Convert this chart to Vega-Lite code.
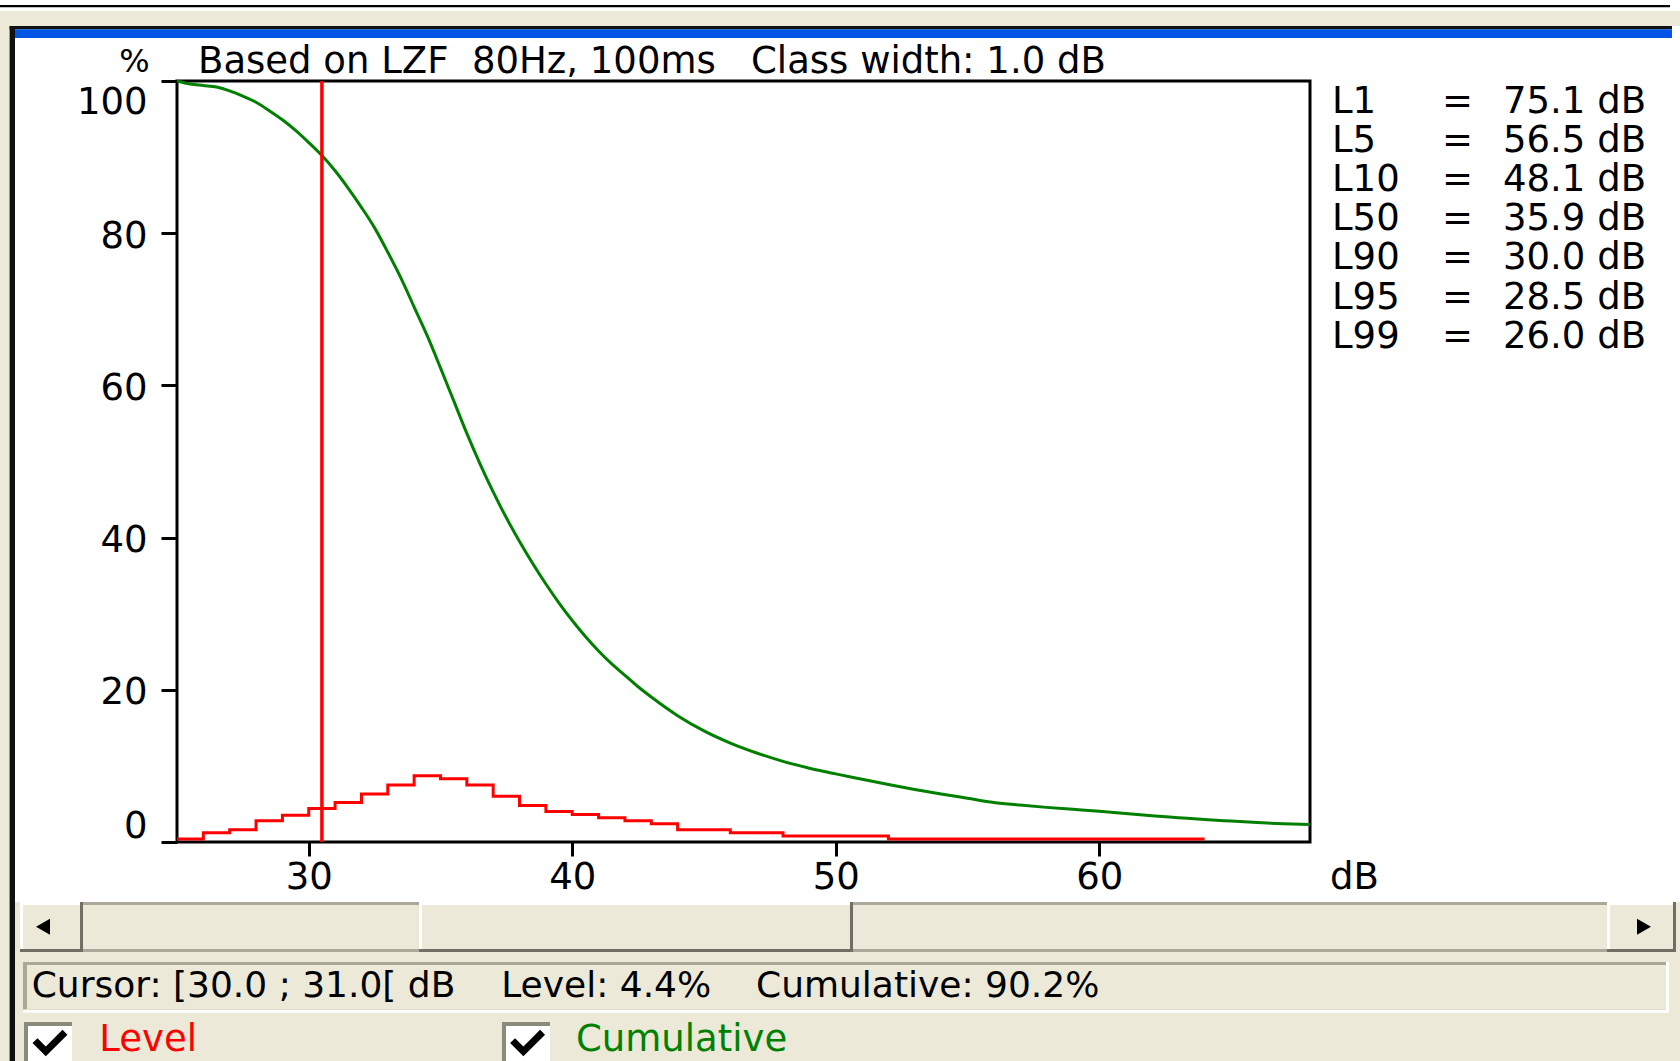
{
  "$schema": "https://vega.github.io/schema/vega-lite/v6.json",
  "width": 1133,
  "height": 761,
  "autosize": {"type": "none"},
  "padding": {"left": 177, "top": 81, "right": 370, "bottom": 219},
  "background": "#ffffff",
  "title": {
    "text": "Based on LZF\u00a0\u00a080Hz, 100ms\u00a0\u00a0\u00a0Class width: 1.0 dB",
    "anchor": "start",
    "frame": "group",
    "dx": 21,
    "offset": -105,
    "baseline": "alphabetic",
    "font": "DejaVu Sans",
    "fontSize": 37,
    "fontWeight": "normal",
    "color": "#000000",
    "zindex": 1
  },
  "config": {
    "view": {"stroke": null},
    "font": "DejaVu Sans",
    "axis": {
      "labelFont": "DejaVu Sans",
      "labelFontSize": 37,
      "labelColor": "#000000",
      "titleFont": "DejaVu Sans",
      "titleFontSize": 37,
      "titleFontWeight": "normal",
      "titleColor": "#000000",
      "tickColor": "#000000",
      "tickWidth": 3,
      "domain": false,
      "gridColor": "#a0a0a0",
      "gridWidth": 3,
      "gridOpacity": 1
    },
    "text": {"font": "DejaVu Sans", "fontSize": 37, "color": "#000000"}
  },
  "datasets": {
    "unit": [{}],
    "levels": [
      {"lo": 25, "hi": 26, "level": 0.4},
      {"lo": 26, "hi": 27, "level": 1.2},
      {"lo": 27, "hi": 28, "level": 1.6},
      {"lo": 28, "hi": 29, "level": 2.8},
      {"lo": 29, "hi": 30, "level": 3.5},
      {"lo": 30, "hi": 31, "level": 4.4},
      {"lo": 31, "hi": 32, "level": 5.2},
      {"lo": 32, "hi": 33, "level": 6.3},
      {"lo": 33, "hi": 34, "level": 7.5},
      {"lo": 34, "hi": 35, "level": 8.7},
      {"lo": 35, "hi": 36, "level": 8.3},
      {"lo": 36, "hi": 37, "level": 7.5},
      {"lo": 37, "hi": 38, "level": 6.0},
      {"lo": 38, "hi": 39, "level": 4.8},
      {"lo": 39, "hi": 40, "level": 4.0},
      {"lo": 40, "hi": 41, "level": 3.6},
      {"lo": 41, "hi": 42, "level": 3.2},
      {"lo": 42, "hi": 43, "level": 2.8},
      {"lo": 43, "hi": 44, "level": 2.4},
      {"lo": 44, "hi": 45, "level": 1.6},
      {"lo": 45, "hi": 46, "level": 1.6},
      {"lo": 46, "hi": 47, "level": 1.2},
      {"lo": 47, "hi": 48, "level": 1.2},
      {"lo": 48, "hi": 49, "level": 0.8},
      {"lo": 49, "hi": 50, "level": 0.8},
      {"lo": 50, "hi": 51, "level": 0.8},
      {"lo": 51, "hi": 52, "level": 0.8},
      {"lo": 52, "hi": 53, "level": 0.4},
      {"lo": 53, "hi": 54, "level": 0.4},
      {"lo": 54, "hi": 55, "level": 0.4},
      {"lo": 55, "hi": 56, "level": 0.4},
      {"lo": 56, "hi": 57, "level": 0.4},
      {"lo": 57, "hi": 58, "level": 0.4},
      {"lo": 58, "hi": 59, "level": 0.4},
      {"lo": 59, "hi": 60, "level": 0.4},
      {"lo": 60, "hi": 61, "level": 0.4},
      {"lo": 61, "hi": 62, "level": 0.4},
      {"lo": 62, "hi": 63, "level": 0.4},
      {"lo": 63, "hi": 64, "level": 0.4}
    ],
    "cumulative": [
      {"dB": 25, "pct": 100},
      {"dB": 25.5, "pct": 99.6},
      {"dB": 26, "pct": 99.4},
      {"dB": 26.5, "pct": 99.2},
      {"dB": 27, "pct": 98.7},
      {"dB": 27.5, "pct": 98.0},
      {"dB": 28, "pct": 97.2},
      {"dB": 28.5, "pct": 96.1},
      {"dB": 29, "pct": 94.9},
      {"dB": 29.5, "pct": 93.5},
      {"dB": 30, "pct": 91.9},
      {"dB": 30.5, "pct": 90.2},
      {"dB": 31, "pct": 88.2},
      {"dB": 31.5, "pct": 85.9},
      {"dB": 32, "pct": 83.4},
      {"dB": 32.5, "pct": 80.7},
      {"dB": 33, "pct": 77.5},
      {"dB": 33.5, "pct": 74.1},
      {"dB": 34, "pct": 70.3},
      {"dB": 34.5, "pct": 66.5},
      {"dB": 35, "pct": 62.3},
      {"dB": 35.5, "pct": 58.0},
      {"dB": 36, "pct": 53.7},
      {"dB": 36.5, "pct": 49.7},
      {"dB": 37, "pct": 46.0},
      {"dB": 37.5, "pct": 42.6},
      {"dB": 38, "pct": 39.5},
      {"dB": 38.5, "pct": 36.6},
      {"dB": 39, "pct": 33.9},
      {"dB": 39.5, "pct": 31.4},
      {"dB": 40, "pct": 29.1},
      {"dB": 40.5, "pct": 27.0},
      {"dB": 41, "pct": 25.1},
      {"dB": 41.5, "pct": 23.4},
      {"dB": 42, "pct": 21.9},
      {"dB": 42.5, "pct": 20.4},
      {"dB": 43, "pct": 19.05},
      {"dB": 44, "pct": 16.6},
      {"dB": 45, "pct": 14.6},
      {"dB": 46, "pct": 13.0},
      {"dB": 47, "pct": 11.7},
      {"dB": 48, "pct": 10.6},
      {"dB": 49, "pct": 9.7},
      {"dB": 50, "pct": 8.95},
      {"dB": 51, "pct": 8.25},
      {"dB": 52, "pct": 7.55},
      {"dB": 53, "pct": 6.9},
      {"dB": 54, "pct": 6.3},
      {"dB": 55, "pct": 5.75},
      {"dB": 56, "pct": 5.2},
      {"dB": 57, "pct": 4.85},
      {"dB": 58, "pct": 4.55},
      {"dB": 59, "pct": 4.3},
      {"dB": 60, "pct": 4.05},
      {"dB": 61, "pct": 3.75},
      {"dB": 62, "pct": 3.45},
      {"dB": 63, "pct": 3.2},
      {"dB": 64, "pct": 2.95},
      {"dB": 65, "pct": 2.75},
      {"dB": 66, "pct": 2.55},
      {"dB": 67, "pct": 2.4},
      {"dB": 68, "pct": 2.3}
    ],
    "percentiles": [
      {"stat": "L1", "db": 75.1},
      {"stat": "L5", "db": 56.5},
      {"stat": "L10", "db": 48.1},
      {"stat": "L50", "db": 35.9},
      {"stat": "L90", "db": 30.0},
      {"stat": "L95", "db": 28.5},
      {"stat": "L99", "db": 26.0}
    ]
  },
  "resolve": {"scale": {"y": "independent"}},
  "layer": [
    {
      "layer": [
        {"data": {"name": "unit"}, "mark": {"type": "rect", "color": "#ece9d8"},
         "encoding": {"x": {"datum": 18.2825}, "x2": {"datum": 82.042}, "y": {"datum": 109.198}, "y2": {"datum": 107.227}}},
        {"data": {"name": "unit"}, "mark": {"type": "rect", "color": "#ece9d8"},
         "encoding": {"x": {"datum": 18.2825}, "x2": {"datum": 18.647}, "y": {"datum": 109.198}, "y2": {"datum": -28.778}}},
        {"data": {"name": "unit"}, "mark": {"type": "rect", "color": "#ece9d8"},
         "encoding": {"x": {"datum": 18.852}, "x2": {"datum": 82.042}, "y": {"datum": -7.884}, "y2": {"datum": -28.778}}},
        {"data": {"name": "unit"}, "mark": {"type": "rect", "color": "#000000"},
         "encoding": {"x": {"datum": 18.2825}, "x2": {"datum": 81.662}, "y": {"datum": 109.987}, "y2": {"datum": 109.685}}},
        {"data": {"name": "unit"}, "mark": {"type": "rect", "color": "#111111"},
         "encoding": {"x": {"datum": 18.647}, "x2": {"datum": 81.738}, "y": {"datum": 107.227}, "y2": {"datum": 106.794}}},
        {"data": {"name": "unit"}, "mark": {"type": "rect", "color": "#111111"},
         "encoding": {"x": {"datum": 18.647}, "x2": {"datum": 18.852}, "y": {"datum": 107.227}, "y2": {"datum": -28.778}}},
        {"data": {"name": "unit"}, "mark": {"type": "rect", "color": "#0055e5"},
         "encoding": {"x": {"datum": 18.852}, "x2": {"datum": 81.738}, "y": {"datum": 106.794}, "y2": {"datum": 105.65}}},
        {"data": {"name": "unit"}, "mark": {"type": "rect", "color": "#aca899"},
         "encoding": {"x": {"datum": 21.4325}, "x2": {"datum": 79.271}, "y": {"datum": -7.884}, "y2": {"datum": -8.279}}},
        {"data": {"name": "unit"}, "mark": {"type": "rect", "color": "#aca899"},
         "encoding": {"x": {"datum": 21.4325}, "x2": {"datum": 79.271}, "y": {"datum": -14.06}, "y2": {"datum": -14.455}}},
        {"data": {"name": "unit"}, "mark": {"type": "rect", "color": "#716f64"},
         "encoding": {"x": {"datum": 19.0415}, "x2": {"datum": 21.4325}, "y": {"datum": -7.884}, "y2": {"datum": -14.455}}},
        {"data": {"name": "unit"}, "mark": {"type": "rect", "color": "#ffffff"},
         "encoding": {"x": {"datum": 19.0415}, "x2": {"datum": 21.319}, "y": {"datum": -7.884}, "y2": {"datum": -14.06}}},
        {"data": {"name": "unit"}, "mark": {"type": "rect", "color": "#ece9d8"},
         "encoding": {"x": {"datum": 19.155}, "x2": {"datum": 21.319}, "y": {"datum": -8.279}, "y2": {"datum": -14.06}}},
        {"data": {"name": "unit"}, "mark": {"type": "point", "shape": "triangle-left", "filled": true, "color": "#000000", "opacity": 1, "size": 260},
         "encoding": {"x": {"datum": 19.914}, "y": {"datum": -11.13}}},
        {"data": {"name": "unit"}, "mark": {"type": "rect", "color": "#716f64"},
         "encoding": {"x": {"datum": 34.184}, "x2": {"datum": 50.656}, "y": {"datum": -7.884}, "y2": {"datum": -14.455}}},
        {"data": {"name": "unit"}, "mark": {"type": "rect", "color": "#ffffff"},
         "encoding": {"x": {"datum": 34.184}, "x2": {"datum": 50.542}, "y": {"datum": -7.884}, "y2": {"datum": -14.06}}},
        {"data": {"name": "unit"}, "mark": {"type": "rect", "color": "#ece9d8"},
         "encoding": {"x": {"datum": 34.298}, "x2": {"datum": 50.542}, "y": {"datum": -8.279}, "y2": {"datum": -14.06}}},
        {"data": {"name": "unit"}, "mark": {"type": "rect", "color": "#716f64"},
         "encoding": {"x": {"datum": 79.271}, "x2": {"datum": 81.89}, "y": {"datum": -7.884}, "y2": {"datum": -14.455}}},
        {"data": {"name": "unit"}, "mark": {"type": "rect", "color": "#ffffff"},
         "encoding": {"x": {"datum": 79.271}, "x2": {"datum": 81.776}, "y": {"datum": -7.884}, "y2": {"datum": -14.06}}},
        {"data": {"name": "unit"}, "mark": {"type": "rect", "color": "#ece9d8"},
         "encoding": {"x": {"datum": 79.385}, "x2": {"datum": 81.776}, "y": {"datum": -8.279}, "y2": {"datum": -14.06}}},
        {"data": {"name": "unit"}, "mark": {"type": "point", "shape": "triangle-right", "filled": true, "color": "#000000", "opacity": 1, "size": 260},
         "encoding": {"x": {"datum": 80.676}, "y": {"datum": -11.13}}},
        {"data": {"name": "unit"}, "mark": {"type": "rect", "color": "#ffffff"},
         "encoding": {"x": {"datum": 19.155}, "x2": {"datum": 81.624}, "y": {"datum": -15.769}, "y2": {"datum": -22.431}}},
        {"data": {"name": "unit"}, "mark": {"type": "rect", "color": "#aca899"},
         "encoding": {"x": {"datum": 19.155}, "x2": {"datum": 81.511}, "y": {"datum": -15.769}, "y2": {"datum": -22.011}}},
        {"data": {"name": "unit"}, "mark": {"type": "rect", "color": "#ece9d8"},
         "encoding": {"x": {"datum": 19.307}, "x2": {"datum": 81.511}, "y": {"datum": -16.163}, "y2": {"datum": -22.011}}},
        {
          "data": {"name": "levels"},
          "transform": [
            {"filter": "datum.lo === 30"},
            {"calculate": "'Cursor: [' + format(datum.lo, '.1f') + ' ; ' + format(datum.hi, '.1f') + '[ dB\u00a0\u00a0\u00a0\u00a0Level: ' + format(datum.level, '.1f') + '%'", "as": "status"}
          ],
          "mark": {"type": "text", "align": "left", "baseline": "alphabetic", "fontSize": 36},
          "encoding": {"x": {"datum": 19.486}, "y": {"datum": -20.407}, "text": {"field": "status"}}
        },
        {
          "data": {"name": "cumulative"},
          "transform": [
            {"filter": "datum.dB === 30.5"},
            {"calculate": "'Cumulative: ' + format(datum.pct, '.1f') + '%'", "as": "status"}
          ],
          "mark": {"type": "text", "align": "left", "baseline": "alphabetic", "fontSize": 36},
          "encoding": {"x": {"datum": 46.974}, "y": {"datum": -20.407}, "text": {"field": "status"}}
        },
        {"data": {"name": "unit"}, "mark": {"type": "rect", "color": "#8c8a7d"},
         "encoding": {"x": {"datum": 19.193}, "x2": {"datum": 21.015}, "y": {"datum": -23.653}, "y2": {"datum": -28.778}}},
        {"data": {"name": "unit"}, "mark": {"type": "rect", "color": "#ffffff"},
         "encoding": {"x": {"datum": 19.345}, "x2": {"datum": 21.015}, "y": {"datum": -24.179}, "y2": {"datum": -28.778}}},
        {"data": {"name": "unit"}, "mark": {"type": "point", "shape": "M-0.6,-0.1L-0.15,0.35L0.65,-0.45", "filled": false, "stroke": "#000000", "strokeWidth": 7, "opacity": 1, "size": 2304},
         "encoding": {"x": {"datum": 20.157}, "y": {"datum": -26.413}}},
        {"data": {"name": "unit"}, "mark": {"type": "text", "align": "left", "baseline": "alphabetic", "fontSize": 37},
         "encoding": {"x": {"datum": 22.051}, "y": {"datum": -27.464}, "text": {"datum": "Level"}, "color": {"datum": "Level", "legend": null}}},
        {"data": {"name": "unit"}, "mark": {"type": "rect", "color": "#8c8a7d"},
         "encoding": {"x": {"datum": 37.334}, "x2": {"datum": 39.156}, "y": {"datum": -23.653}, "y2": {"datum": -28.778}}},
        {"data": {"name": "unit"}, "mark": {"type": "rect", "color": "#ffffff"},
         "encoding": {"x": {"datum": 37.486}, "x2": {"datum": 39.156}, "y": {"datum": -24.179}, "y2": {"datum": -28.778}}},
        {"data": {"name": "unit"}, "mark": {"type": "point", "shape": "M-0.6,-0.1L-0.15,0.35L0.65,-0.45", "filled": false, "stroke": "#000000", "strokeWidth": 7, "opacity": 1, "size": 2304},
         "encoding": {"x": {"datum": 38.283}, "y": {"datum": -26.413}}},
        {"data": {"name": "unit"}, "mark": {"type": "text", "align": "left", "baseline": "alphabetic", "fontSize": 37},
         "encoding": {"x": {"datum": 40.143}, "y": {"datum": -27.464}, "text": {"datum": "Cumulative"}, "color": {"datum": "Cumulative", "legend": null}}},
        {"data": {"name": "unit"}, "mark": {"type": "rect", "fill": null, "stroke": "#000000", "strokeWidth": 3},
         "encoding": {"x": {"datum": 25}, "x2": {"datum": 68}, "y": {"datum": 0}, "y2": {"datum": 100}}},
        {
          "data": {"name": "levels"},
          "transform": [{"fold": ["lo", "hi"], "as": ["edge", "dB"]}],
          "mark": {"type": "line", "strokeWidth": 3},
          "encoding": {
            "x": {
              "field": "dB", "type": "quantitative",
              "scale": {"domain": [25, 68], "nice": false, "zero": false},
              "axis": {"values": [30, 40, 50, 60], "tickSize": 14, "labelBaseline": "alphabetic", "labelPadding": 32,
                       "title": "dB", "titleX": 1177, "titleY": 46, "titleAlign": "center", "titleBaseline": "alphabetic"}
            },
            "y": {
              "field": "level", "type": "quantitative",
              "scale": {"domain": [0, 100], "nice": false, "zero": false},
              "axis": {"values": [0, 20, 40, 60, 80, 100], "tickSize": 16, "labelPadding": 14, "labelFlush": true, "labelOffset": 3,
                       "title": "%", "titleAngle": 0, "titleX": -43, "titleY": -10, "titleAlign": "center", "titleBaseline": "alphabetic", "titleFontSize": 32}
            },
            "order": [{"field": "dB", "type": "quantitative"}, {"field": "edge", "type": "nominal"}],
            "color": {
              "datum": "Level",
              "scale": {"domain": ["Level", "Cumulative"], "range": ["#ff0000", "#008000"]},
              "legend": null
            }
          }
        },
        {
          "data": {"name": "cumulative"},
          "mark": {"type": "line", "strokeWidth": 3, "interpolate": "monotone"},
          "encoding": {
            "x": {"field": "dB", "type": "quantitative"},
            "y": {"field": "pct", "type": "quantitative"},
            "color": {"datum": "Cumulative", "legend": null}
          }
        },
        {
          "data": {"name": "levels"},
          "transform": [
            {"filter": "datum.lo === 30"},
            {"calculate": "(datum.lo + datum.hi) / 2", "as": "cursor"}
          ],
          "mark": {"type": "rule", "color": "#ff0000", "strokeWidth": 3.5},
          "encoding": {"x": {"field": "cursor", "type": "quantitative"}}
        }
      ]
    },
    {
      "data": {"name": "percentiles"},
      "transform": [{"calculate": "format(datum.db, '.1f') + ' dB'", "as": "label"}],
      "encoding": {
        "y": {"field": "stat", "type": "ordinal", "sort": null, "scale": {"type": "point", "range": [31.7, 266.7], "padding": 0}, "axis": null}
      },
      "layer": [
        {"mark": {"type": "text", "align": "left", "baseline": "alphabetic", "fontSize": 37},
         "encoding": {"x": {"datum": 68.835}, "text": {"field": "stat"}}},
        {"mark": {"type": "text", "align": "center", "baseline": "alphabetic", "fontSize": 37, "text": "="},
         "encoding": {"x": {"datum": 73.597}}},
        {"mark": {"type": "text", "align": "right", "baseline": "alphabetic", "fontSize": 37},
         "encoding": {"x": {"datum": 80.753}, "text": {"field": "label"}}}
      ]
    }
  ]
}
